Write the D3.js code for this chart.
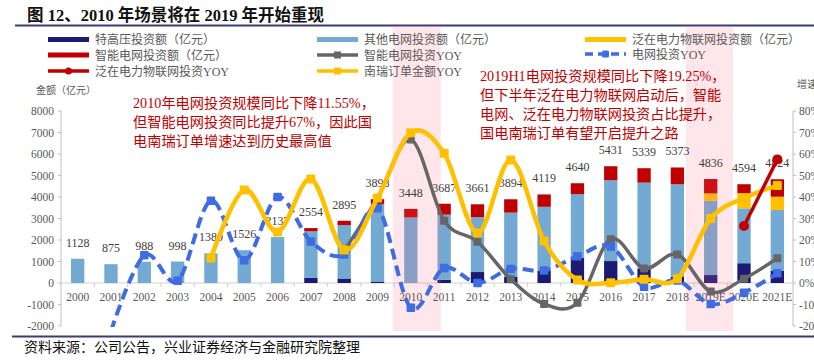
<!DOCTYPE html>
<html><head><meta charset="utf-8">
<script src="https://cdn.jsdelivr.net/npm/d3@7/dist/d3.min.js"></script>
<style>body{margin:0;background:#fff}svg{display:block}</style>
</head><body>
<script>
const years = ["2000","2001","2002","2003","2004","2005","2006","2007","2008","2009","2010","2011","2012","2013","2014","2015","2016","2017","2018","2019E","2020E","2021E"];
const uhvInv   = [0,0,0,0,0,0,0,250,210,70,0,150,510,280,560,1180,1020,680,290,370,920,570];
const otherInv = [1128,875,988,998,1380,1526,2137,2154,2485,3608,3048,3027,2551,2994,2984,2950,3761,3989,4303,3456,2554,2824];
const iotInv   = [0,0,0,0,0,0,0,0,0,0,0,0,0,0,0,0,0,0,0,340,700,620];
const smartInv = [0,0,0,0,0,0,0,150,200,220,400,510,600,620,575,510,650,670,780,670,420,810];
const totalLabels = [1128,875,988,998,1380,1526,2137,2554,2895,3898,3448,3687,3661,3894,4119,4640,5431,5339,5373,4836,4594,4824];
const smartYoY = [null,null,null,null,null,null,null,null,15,39.5,66.8,29,19.2,1.7,-9.8,-9.2,20.4,6.8,13.3,-4,2,11.5];
const gridYoY  = [null,-22.4,12.9,1.0,38.3,10.6,40.0,19.3,13.2,34.8,-11.5,7.0,0.0,6.5,5.8,12.4,17.0,-1.7,1.2,-9.8,-4.5,4.5];
const iotYoY   = [null,null,null,null,null,null,null,null,null,null,null,null,null,null,null,null,null,null,null,null,26.5,57.5];
const nariYoY  = [null,null,null,null,11.6,43.3,23.7,48.4,15.3,39.5,69.9,60.3,23.3,57.2,19.5,1.4,0.1,1.7,2.0,30,39.5,45.3];
const leftTicks = [-2000,-1000,0,1000,2000,3000,4000,5000,6000,7000,8000];
const rightTicks = [-20,-10,0,10,20,30,40,50,60,70,80];

const W = 814, H = 360;
const serif = "'Liberation Serif','Times New Roman','Noto Serif CJK SC','Noto Sans CJK SC',serif";
const cjk = "'Liberation Serif','Noto Sans CJK SC',sans-serif";
const C = {uhv:"#1b1b73", other:"#72aad3", iot:"#ffc000", smart:"#c00000", gray:"#666666", blue:"#3f6be3", red:"#c00000", yellow:"#ffc000", txt:"#595959"};

const svg = d3.select("body").append("svg").attr("width", W).attr("height", H);

const x = d3.scaleBand().domain(years).range([61, 794]).paddingInner(0.6).paddingOuter(0.3);
const y = d3.scaleLinear().domain([-2000, 8000]).range([326, 111]);
const yr = d3.scaleLinear().domain([-20, 80]).range([326, 111]);
const cx = d => x(d) + x.bandwidth() / 2;

// title
svg.append("text").attr("x", 27).attr("y", 21).attr("font-family", cjk).attr("font-size", 16.5)
  .attr("font-weight", "bold").attr("fill", "#111").text("图 12、2010 年场景将在 2019 年开始重现");
svg.append("line").attr("x1", 15).attr("x2", W).attr("y1", 25.5).attr("y2", 25.5).attr("stroke", "#3c3c74").attr("stroke-width", 2.2);

// axes
const ax = svg.append("g");
ax.append("line").attr("x1", 61).attr("x2", 61).attr("y1", y(8000)).attr("y2", y(-2000)).attr("stroke", "#bfbfbf");
ax.append("line").attr("x1", 793).attr("x2", 793).attr("y1", yr(80)).attr("y2", yr(-20)).attr("stroke", "#bfbfbf");
leftTicks.forEach(t => {
  ax.append("line").attr("x1", 58).attr("x2", 61).attr("y1", y(t)).attr("y2", y(t)).attr("stroke", "#bfbfbf");
  ax.append("text").attr("x", 54).attr("y", y(t) + 4).attr("text-anchor", "end").attr("font-family", serif)
    .attr("font-size", 11.5).attr("fill", C.txt).text(t);
});
rightTicks.forEach(t => {
  ax.append("line").attr("x1", 793).attr("x2", 796).attr("y1", yr(t)).attr("y2", yr(t)).attr("stroke", "#bfbfbf");
  ax.append("text").attr("x", 799).attr("y", yr(t) + 4).attr("font-family", serif)
    .attr("font-size", 11.5).attr("fill", C.txt).text(t + "%");
});
ax.append("text").attr("x", 36).attr("y", 94).attr("font-family", cjk).attr("font-size", 10).attr("fill", C.txt).text("金额（亿元）");
ax.append("text").attr("x", 797).attr("y", 88).attr("font-family", cjk).attr("font-size", 10).attr("fill", C.txt).text("增速");

// bars
const series = [["uhv", uhvInv], ["other", otherInv], ["iot", iotInv], ["smart", smartInv]];
const rows = years.map((yv, i) => ({year: yv, uhv: uhvInv[i], other: otherInv[i], iot: iotInv[i], smart: smartInv[i]}));
const stack = d3.stack().keys(series.map(s => s[0]))(rows);
const bars = svg.append("g");
stack.forEach(layer => {
  bars.append("g").attr("fill", C[layer.key]).selectAll("rect").data(layer).join("rect")
    .attr("x", d => x(d.data.year)).attr("width", x.bandwidth())
    .attr("y", d => y(d[1])).attr("height", d => Math.max(0, y(d[0]) - y(d[1])));
});

// zero line + category ticks
ax.append("line").attr("x1", 61).attr("x2", 794).attr("y1", y(0)).attr("y2", y(0)).attr("stroke", "#d0d0d0");
years.forEach((yv, i) => {
  const bx = x(yv) - x.step() * x.paddingInner() / 2;
  if (i > 0) svg.append("line").attr("x1", bx).attr("x2", bx).attr("y1", y(0)).attr("y2", y(0) + 4).attr("stroke", "#d0d0d0");
});

// highlight overlays
const highlights = [["2010", -18, 30], ["2019E", -24.7, 22.3]];
highlights.forEach(h => {
  svg.append("rect").attr("x", cx(h[0]) + h[1]).attr("width", h[2] - h[1]).attr("y", 27).attr("height", 304)
    .attr("fill", "rgb(255,105,135)").attr("opacity", 0.17);
});

// category labels & totals
years.forEach((yv, i) => {
  svg.append("text").attr("x", cx(yv)).attr("y", 301).attr("text-anchor", "middle").attr("font-family", serif)
    .attr("font-size", 11.5).attr("fill", C.txt).text(yv);
  svg.append("text").attr("x", cx(yv)).attr("y", y(totalLabels[i]) - 12).attr("text-anchor", "middle").attr("font-family", serif)
    .attr("font-size", 12).attr("fill", "#404040").text(totalLabels[i]);
});

// lines
svg.append("defs").append("clipPath").attr("id", "plot").append("rect").attr("x", 55).attr("y", 100).attr("width", 745).attr("height", 227);
const lg = svg.append("g").attr("clip-path", "url(#plot)");
const lineGen = d3.line().defined(d => d.v != null).x(d => cx(d.c)).y(d => yr(d.v)).curve(d3.curveCardinal.tension(0));
function drawLine(vals, color, width, dash, marker) {
  const pts = years.map((c, i) => ({c, v: vals[i]})).filter(d => d.v != null);
  lg.append("path").datum(pts).attr("d", lineGen).attr("fill", "none").attr("stroke", color)
    .attr("stroke-width", width).attr("stroke-dasharray", dash || null);
  pts.forEach(p => {
    if (marker === "circle") lg.append("circle").attr("cx", cx(p.c)).attr("cy", yr(p.v)).attr("r", 5).attr("fill", color);
    else lg.append("rect").attr("x", cx(p.c) - marker / 2).attr("y", yr(p.v) - marker / 2).attr("width", marker).attr("height", marker)
      .attr("rx", 1).attr("fill", color);
  });
}
drawLine(smartYoY, C.gray, 3.5, null, 8);
drawLine(gridYoY, C.blue, 4, "11 6", 8.5);
drawLine(nariYoY, C.yellow, 4.5, null, 9);
drawLine(iotYoY, C.red, 3.5, null, "circle");

// legend
const legend = [
  {x: 48, y: 39.5, type: "rect", color: C.uhv, label: "特高压投资额（亿元）"},
  {x: 317, y: 39.5, type: "rect", color: C.other, label: "其他电网投资额（亿元）"},
  {x: 585, y: 39.5, type: "rect", color: C.iot, label: "泛在电力物联网投资额（亿元）"},
  {x: 48, y: 55, type: "rect", color: C.smart, label: "智能电网投资额（亿元）"},
  {x: 317, y: 55, type: "line", color: C.gray, label: "智能电网投资YOY"},
  {x: 585, y: 54, type: "dash", color: C.blue, label: "电网投资YOY"},
  {x: 48, y: 71, type: "circle", color: C.red, label: "泛在电力物联网投资YOY"},
  {x: 317, y: 71, type: "line", color: C.yellow, label: "南瑞订单金额YOY"}
];
const lgd = svg.append("g");
legend.forEach(l => {
  if (l.type === "rect") lgd.append("rect").attr("x", l.x).attr("y", l.y - 2.5).attr("width", 41).attr("height", 5).attr("fill", l.color);
  else if (l.type === "line" || l.type === "circle") {
    lgd.append("line").attr("x1", l.x).attr("x2", l.x + 41).attr("y1", l.y).attr("y2", l.y).attr("stroke", l.color).attr("stroke-width", 3.5);
    if (l.type === "line") lgd.append("rect").attr("x", l.x + 17).attr("y", l.y - 3.5).attr("width", 7).attr("height", 7).attr("fill", l.color);
    else lgd.append("circle").attr("cx", l.x + 20.5).attr("cy", l.y).attr("r", 3.5).attr("fill", l.color);
  } else {
    lgd.append("line").attr("x1", l.x).attr("x2", l.x + 41).attr("y1", l.y).attr("y2", l.y).attr("stroke", l.color)
      .attr("stroke-width", 3.5).attr("stroke-dasharray", "8 5");
    lgd.append("rect").attr("x", l.x + 17).attr("y", l.y - 3.5).attr("width", 7).attr("height", 7).attr("rx", 1.5).attr("fill", l.color);
  }
  lgd.append("text").attr("x", l.x + 47).attr("y", l.y + 4.5).attr("font-family", cjk).attr("font-size", 12)
    .attr("fill", C.txt).text(l.label);
});

// annotations
const ann1 = ["2010年电网投资规模同比下降11.55%，", "但智能电网投资同比提升67%，因此国", "电南瑞订单增速达到历史最高值"];
const ann2 = ["2019H1电网投资规模同比下降19.25%，", "但下半年泛在电力物联网启动后，智能", "电网、泛在电力物联网投资占比提升，", "国电南瑞订单有望开启提升之路"];
ann1.forEach((t, i) => svg.append("text").attr("x", 133).attr("y", 108 + i * 19.2).attr("font-family", cjk)
  .attr("font-size", 14.2).attr("fill", "#c00000").text(t));
ann2.forEach((t, i) => svg.append("text").attr("x", 480).attr("y", 80.5 + i * 19).attr("font-family", cjk)
  .attr("font-size", 14.2).attr("fill", "#c00000").text(t));

// bottom
svg.append("line").attr("x1", 12).attr("x2", W).attr("y1", 336.5).attr("y2", 336.5).attr("stroke", "#3c3c74").attr("stroke-width", 2.2);
svg.append("text").attr("x", 24).attr("y", 352).attr("font-family", cjk).attr("font-size", 14).attr("fill", "#111")
  .text("资料来源：公司公告，兴业证券经济与金融研究院整理");
</script>
</body></html>
